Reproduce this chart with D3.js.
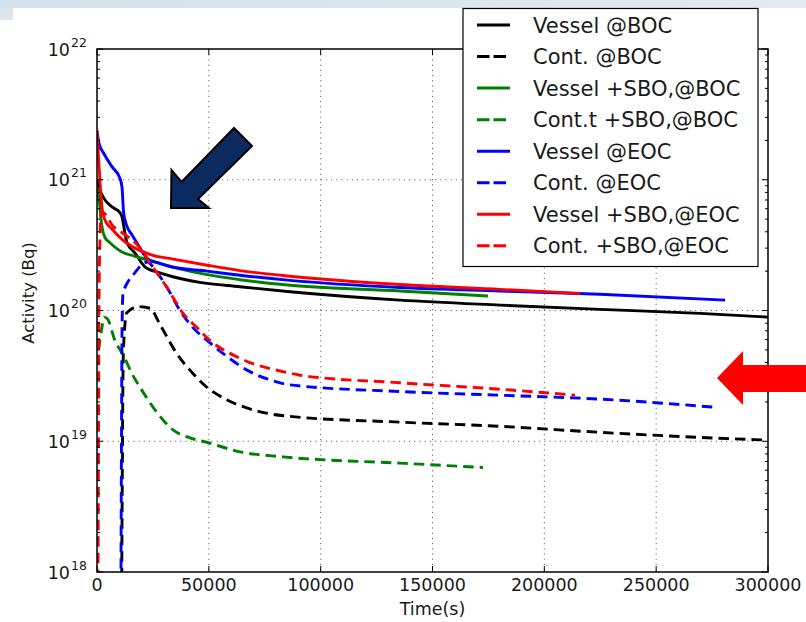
<!DOCTYPE html>
<html>
<head>
<meta charset="utf-8">
<script src="https://cdn.jsdelivr.net/npm/d3@7/dist/d3.min.js"></script>
<style>
  html, body { margin: 0; padding: 0; background: #fff; }
  svg { display: block; font-family: "DejaVu Sans", sans-serif; }
</style>
</head>
<body>
<svg id="chart" width="806" height="622"></svg>
<script>
// ---- series data: time (s) and activity (Bq) ----
const vesselBOC_t = [0, 900, 3100, 6700, 10300, 11200, 12500, 13400, 17000, 21500, 27700, 33500, 46000, 63900, 86300, 135500, 180200, 224900, 269600, 300000];
const vesselBOC_v = [1.0e21, 8.7e20, 7.2e20, 6.2e20, 5.6e20, 5.2e20, 3.9e20, 3.3e20, 2.75e20, 2.15e20, 1.95e20, 1.82e20, 1.64e20, 1.52e20, 1.39e20, 1.2e20, 1.1e20, 1.02e20, 9.5e19, 8.9e19];

const contBOC_t = [11000, 11800, 13300, 18600, 23700, 28200, 35600, 42900, 49000, 56300, 66900, 77300, 86300, 135500, 180200, 224900, 269600, 300000];
const contBOC_v = [5e17, 5e19, 9.6e19, 1.07e20, 1.04e20, 7.8e19, 4.7e19, 3.3e19, 2.6e19, 2.15e19, 1.8e19, 1.62e19, 1.55e19, 1.4e19, 1.3e19, 1.17e19, 1.07e19, 1.02e19];

const vesselSboBOC_t = [0, 900, 2200, 3600, 5800, 11200, 17000, 27700, 34000, 49200, 63900, 86300, 135500, 174800];
const vesselSboBOC_v = [8.7e20, 7.1e20, 4.4e20, 3.6e20, 3.3e20, 2.8e20, 2.6e20, 2.3e20, 2.15e20, 1.88e20, 1.72e20, 1.56e20, 1.41e20, 1.29e20];

const contSboBOC_t = [700, 2200, 3100, 4500, 8000, 11900, 15600, 20100, 26800, 34000, 41600, 49200, 63900, 83200, 135500, 172600];
const contSboBOC_v = [5.0e19, 7.4e19, 8.9e19, 8.7e19, 5.9e19, 4.5e19, 3.3e19, 2.45e19, 1.66e19, 1.22e19, 1.06e19, 9.8e18, 8.3e18, 7.6e18, 6.8e18, 6.3e18];

const vesselEOC_t = [0, 900, 3100, 6700, 10300, 11200, 11900, 13400, 15600, 18800, 22400, 27700, 33500, 49200, 63900, 86300, 135500, 180200, 224900, 280800];
const vesselEOC_v = [2.35e21, 1.9e21, 1.58e21, 1.26e21, 1.02e21, 8.7e20, 5.6e20, 4.4e20, 3.8e20, 3.1e20, 2.5e20, 2.3e20, 2.15e20, 2.0e20, 1.86e20, 1.7e20, 1.5e20, 1.41e20, 1.33e20, 1.2e20];

const contEOC_t = [10700, 10950, 11200, 11600, 14200, 17000, 20100, 22800, 25000, 31300, 37100, 42900, 49200, 56300, 67100, 77300, 86300, 135500, 180200, 224900, 276300];
const contEOC_v = [7.9e17, 1.02e19, 7.1e19, 1.32e20, 1.7e20, 1.95e20, 2.25e20, 2.35e20, 2.15e20, 1.5e20, 1.0e20, 7.4e19, 5.9e19, 4.7e19, 3.5e19, 2.95e19, 2.7e19, 2.4e19, 2.25e19, 2.1e19, 1.82e19];

const vesselSboEOC_t = [0, 760, 1500, 2200, 3600, 6700, 11200, 17000, 24600, 33500, 49200, 63900, 86300, 135500, 180200, 216000];
const vesselSboEOC_v = [2.4e21, 1.41e21, 8.7e20, 6.2e20, 4.9e20, 4.2e20, 3.5e20, 3.0e20, 2.65e20, 2.48e20, 2.22e20, 2.02e20, 1.83e20, 1.58e20, 1.45e20, 1.35e20];

const contSboEOC_t = [450, 670, 900, 1340, 1800, 2700, 7200, 11600, 17900, 25000, 31300, 38500, 44700, 50500, 59500, 68400, 81800, 90800, 135500, 180200, 213700];
const contSboEOC_v = [8.7e17, 1.02e19, 1.2e20, 3.5e20, 5.6e20, 5.6e20, 4.4e20, 3.9e20, 3.2e20, 2.15e20, 1.5e20, 9.5e19, 7.4e19, 5.9e19, 4.7e19, 4.0e19, 3.45e19, 3.2e19, 2.8e19, 2.5e19, 2.25e19];

// ---- labels and ticks ----
const seriesNames = ["Vessel @BOC", "Cont. @BOC", "Vessel +SBO,@BOC", "Cont.t +SBO,@BOC",
                     "Vessel @EOC", "Cont. @EOC", "Vessel +SBO,@EOC", "Cont. +SBO,@EOC"];
const xTickValues = [0, 50000, 100000, 150000, 200000, 250000, 300000];
const yExponents = [18, 19, 20, 21, 22];
const xTitle = "Time(s)";
const yTitle = "Activity (Bq)";

// ---- layout ----
const W = 806, H = 622;
const plot = { left: 97, right: 768, top: 49, bottom: 572 };

const svg = d3.select("#chart");

// light band along the top edge of the page
const defs = svg.append("defs");
const grad = defs.append("linearGradient").attr("id", "band").attr("x1", 0).attr("x2", 1);
grad.append("stop").attr("offset", "0%").attr("stop-color", "#d4e0e9");
grad.append("stop").attr("offset", "100%").attr("stop-color", "#e3ebf1");
svg.append("rect").attr("x", 0).attr("y", 0).attr("width", W).attr("height", 8).attr("fill", "url(#band)");
svg.append("rect").attr("x", 0).attr("y", 8).attr("width", 13).attr("height", 12).attr("fill", "#dce6ed");

const x = d3.scaleLinear().domain([0, 300000]).range([plot.left, plot.right]);
const y = d3.scaleLog().domain([1e18, 1e22]).range([plot.bottom, plot.top]);

defs.append("clipPath").attr("id", "plotClip")
  .append("rect")
  .attr("x", plot.left).attr("y", plot.top)
  .attr("width", plot.right - plot.left).attr("height", plot.bottom - plot.top);

// ---- grid ----
const grid = svg.append("g").attr("stroke", "#666").attr("stroke-width", 1)
  .attr("stroke-dasharray", "1.2,4").attr("fill", "none");
xTickValues.slice(1, -1).forEach(v => {
  grid.append("line").attr("x1", x(v)).attr("x2", x(v)).attr("y1", plot.top).attr("y2", plot.bottom);
});
yExponents.slice(1, -1).forEach(e => {
  grid.append("line").attr("x1", plot.left).attr("x2", plot.right).attr("y1", y(Math.pow(10, e))).attr("y2", y(Math.pow(10, e)));
});

// ---- curves ----
const line = d3.line().x(d => x(d[0])).y(d => y(d[1])).curve(d3.curveMonotoneX);
const zip = (t, v) => t.map((ti, i) => [ti, v[i]]);
const series = [
  { name: seriesNames[0], data: zip(vesselBOC_t, vesselBOC_v), color: "#000000", dashed: false },
  { name: seriesNames[1], data: zip(contBOC_t, contBOC_v), color: "#000000", dashed: true },
  { name: seriesNames[2], data: zip(vesselSboBOC_t, vesselSboBOC_v), color: "#008000", dashed: false },
  { name: seriesNames[3], data: zip(contSboBOC_t, contSboBOC_v), color: "#008000", dashed: true },
  { name: seriesNames[4], data: zip(vesselEOC_t, vesselEOC_v), color: "#0000ff", dashed: false },
  { name: seriesNames[5], data: zip(contEOC_t, contEOC_v), color: "#0000ff", dashed: true },
  { name: seriesNames[6], data: zip(vesselSboEOC_t, vesselSboEOC_v), color: "#ff0000", dashed: false },
  { name: seriesNames[7], data: zip(contSboEOC_t, contSboEOC_v), color: "#ff0000", dashed: true }
];

const curves = svg.append("g").attr("clip-path", "url(#plotClip)");
series.forEach(s => {
  curves.append("path")
    .attr("d", line(s.data))
    .attr("fill", "none")
    .attr("stroke", s.color)
    .attr("stroke-width", 2.9)
    .attr("stroke-linejoin", "round")
    .attr("stroke-dasharray", s.dashed ? "10.5,6" : null);
});

// ---- frame and ticks (inward, on all four sides) ----
const axes = svg.append("g").attr("stroke", "#000").attr("fill", "none");
axes.append("rect")
  .attr("x", plot.left).attr("y", plot.top)
  .attr("width", plot.right - plot.left).attr("height", plot.bottom - plot.top)
  .attr("stroke-width", 1.5);

xTickValues.forEach(v => {
  axes.append("line").attr("x1", x(v)).attr("x2", x(v)).attr("y1", plot.bottom).attr("y2", plot.bottom - 6).attr("stroke-width", 1);
  axes.append("line").attr("x1", x(v)).attr("x2", x(v)).attr("y1", plot.top).attr("y2", plot.top + 6).attr("stroke-width", 1);
});
yExponents.forEach((e, i) => {
  const major = Math.pow(10, e);
  axes.append("line").attr("x1", plot.left).attr("x2", plot.left + 6).attr("y1", y(major)).attr("y2", y(major)).attr("stroke-width", 1);
  axes.append("line").attr("x1", plot.right).attr("x2", plot.right - 6).attr("y1", y(major)).attr("y2", y(major)).attr("stroke-width", 1);
  if (i < yExponents.length - 1) {
    for (let m = 2; m <= 9; m++) {
      const yy = y(m * major);
      axes.append("line").attr("x1", plot.left).attr("x2", plot.left + 3).attr("y1", yy).attr("y2", yy).attr("stroke-width", 1);
      axes.append("line").attr("x1", plot.right).attr("x2", plot.right - 3).attr("y1", yy).attr("y2", yy).attr("stroke-width", 1);
    }
  }
});

// ---- tick labels ----
const labels = svg.append("g").attr("fill", "#1a1a1a");
xTickValues.forEach(v => {
  labels.append("text").attr("x", x(v)).attr("y", 591)
    .attr("text-anchor", "middle").attr("font-size", 17.5).text(String(v));
});
yExponents.forEach(e => {
  const yy = y(Math.pow(10, e));
  labels.append("text").attr("x", 70).attr("y", yy + 6.5)
    .attr("text-anchor", "end").attr("font-size", 17.5).text("10");
  labels.append("text").attr("x", 71).attr("y", yy - 2.5)
    .attr("text-anchor", "start").attr("font-size", 12.5).text(String(e));
});

labels.append("text").attr("x", (plot.left + plot.right) / 2).attr("y", 615)
  .attr("text-anchor", "middle").attr("font-size", 17.5).text(xTitle);
labels.append("text")
  .attr("transform", "translate(34,293) rotate(-90)")
  .attr("text-anchor", "middle").attr("font-size", 16.5).text(yTitle);

// ---- legend ----
const legend = svg.append("g");
const lg = { x: 463, y: 8.5, w: 295, h: 258 };
legend.append("rect").attr("x", lg.x).attr("y", lg.y).attr("width", lg.w).attr("height", lg.h)
  .attr("fill", "#fff").attr("stroke", "#000").attr("stroke-width", 1.2);
series.forEach((s, i) => {
  const cy = 25 + i * 31.55;
  legend.append("line").attr("x1", 477).attr("x2", 510).attr("y1", cy).attr("y2", cy)
    .attr("stroke", s.color).attr("stroke-width", 3)
    .attr("stroke-dasharray", s.dashed ? "12.5,4" : null);
  legend.append("text").attr("x", 533).attr("y", cy + 7.5)
    .attr("font-size", 21).attr("fill", "#1a1a1a").text(s.name);
});

// ---- pointer arrows ----
svg.append("polygon")
  .attr("points", [[171, 208], [171.5, 170], [181.5, 182], [234, 128], [252, 146], [198, 199], [209, 208]].map(p => p.join(",")).join(" "))
  .attr("fill", "#0b2a5f").attr("stroke", "#000").attr("stroke-width", 2).attr("stroke-linejoin", "miter");
svg.append("polygon")
  .attr("points", [[717, 378], [743, 351], [743, 365], [806, 365], [806, 392], [743, 392], [743, 405]].map(p => p.join(",")).join(" "))
  .attr("fill", "#ff0000");
</script>
</body>
</html>
